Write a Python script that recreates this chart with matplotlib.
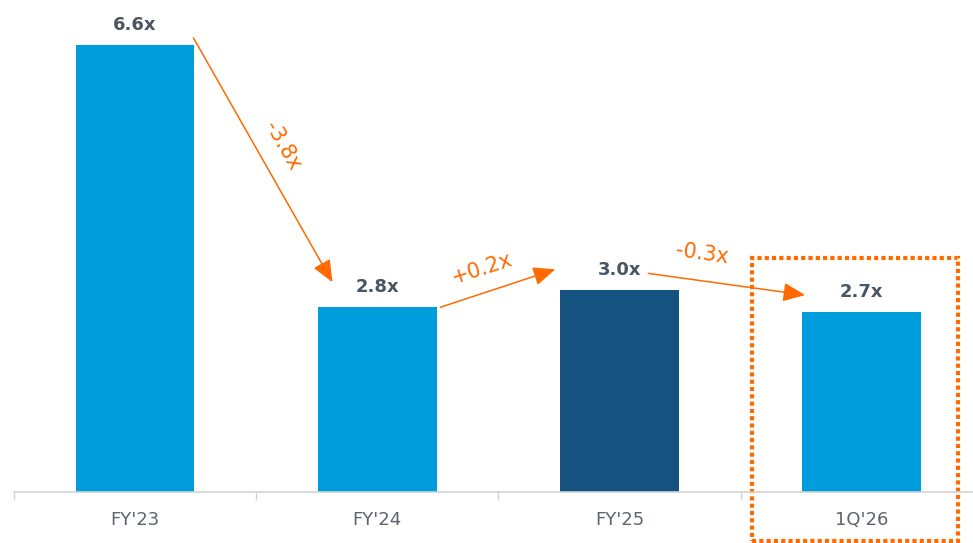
import matplotlib
matplotlib.use('Agg')
from matplotlib import pyplot
from matplotlib.patches import Rectangle

categories = ["FY'23", "FY'24", "FY'25", "1Q'26"]
values = [6.6, 2.73, 2.98, 2.66]
value_labels = ['6.6x', '2.8x', '3.0x', '2.7x']
change_labels = ['-3.8x', '+0.2x', '-0.3x']

light_blue = '#009DDC'
dark_blue = '#15527F'
orange = '#FF6A00'
label_grey = '#4A5563'
tick_grey = '#5C6470'

pyplot.rcParams['font.family'] = ['DejaVu Sans']

fig = pyplot.figure(figsize=(9.73, 5.43), dpi=100)
ax = fig.add_axes([14 / 973, 51 / 543, 1 - 14 / 973, 492 / 543])

colors = [light_blue, light_blue, dark_blue, light_blue]
x = list(range(len(categories)))
rects = ax.bar(x, values, width=0.49, color=colors)

ax.set_xlim(-0.5, 3.46)
ax.set_ylim(0, 7.27)

for rect, text in zip(rects, value_labels):
    ax.annotate(text,
                xy=(rect.get_x() + rect.get_width() / 2, rect.get_height()),
                xytext=(0, 8), textcoords='offset points',
                ha='center', va='bottom', fontsize=13, fontweight='bold',
                color=label_grey)

# spines and ticks
for side in ['top', 'right', 'left']:
    ax.spines[side].set_visible(False)
ax.spines['bottom'].set_color('#D3D3D3')
ax.spines['bottom'].set_linewidth(1.2)
ax.set_yticks([])
ax.set_xticks(x)
ax.set_xticklabels(categories, fontsize=13, color=tick_grey)
ax.tick_params(axis='x', which='major', length=0, pad=14)
ax.set_xticks([-0.5, 0.5, 1.5, 2.5], minor=True)
ax.tick_params(axis='x', which='minor', length=6, color='#D3D3D3', width=1)

# change arrows between bars
arrows = [
    ((0.241, 6.71), (0.815, 3.10)),
    ((1.261, 2.73), (1.735, 3.29)),
    ((2.119, 3.23), (2.767, 2.91)),
]
text_pos = [(0.61, 5.12, -60), (1.434, 3.30, 18), (2.342, 3.52, -8)]

for (start, end), (tx, ty, rot), text in zip(arrows, text_pos, change_labels):
    ax.annotate('', xy=end, xytext=start,
                arrowprops=dict(arrowstyle='-|>,head_length=0.75,head_width=0.32',
                                color=orange, lw=1.1, mutation_scale=18,
                                shrinkA=0, shrinkB=0))
    ax.text(tx, ty, text, color=orange, fontsize=15, rotation=rot,
            rotation_mode='anchor', ha='center', va='center')

# dotted highlight box around the latest quarter
box = Rectangle((2.549, -0.72), 3.40 - 2.549, 3.46 + 0.72,
                fill=False, edgecolor=orange, linewidth=3,
                linestyle=(0, (1, 0.75)), clip_on=False)
ax.add_patch(box)

fig.savefig('out.png', dpi=100)
